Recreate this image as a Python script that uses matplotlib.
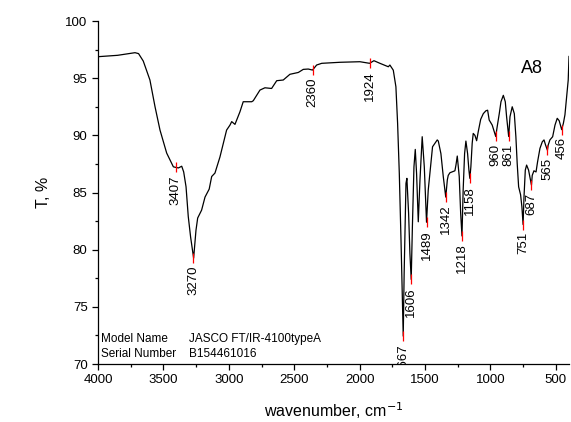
import numpy as np
import matplotlib
matplotlib.use("Agg")
import matplotlib.pyplot as plt
from matplotlib.ticker import MultipleLocator

plt.rcParams["font.family"] = ["Liberation Sans", "DejaVu Sans"]

# spectrum (wavenumber, T %)
wavenumber = [
    3999, 3850, 3717, 3690, 3654, 3603, 3564, 3526, 3475, 3424, 3407, 3385,
    3360, 3345, 3327, 3310, 3292, 3269, 3251, 3238, 3208, 3182, 3164, 3150,
    3131, 3106, 3068, 3017, 2991, 2978, 2953, 2915, 2890, 2876, 2825, 2813,
    2762, 2724, 2673, 2634, 2584, 2533, 2469, 2431, 2393, 2360, 2329, 2290,
    2151, 1998, 1947, 1924, 1891, 1845, 1781, 1769, 1743, 1723, 1710, 1697,
    1684, 1671, 1667, 1660, 1646, 1639, 1626, 1616, 1606, 1597, 1585, 1575,
    1565, 1552, 1539, 1522, 1506, 1489, 1476, 1463, 1443, 1425, 1407, 1399,
    1379, 1361, 1342, 1330, 1323, 1310, 1272, 1264, 1254, 1239, 1228, 1218,
    1209, 1198, 1188, 1175, 1165, 1158, 1150, 1140, 1132, 1119, 1106, 1094,
    1075, 1055, 1035, 1022, 1010, 997, 987, 960, 949, 933, 920, 902, 887,
    877, 861, 851, 834, 818, 806, 796, 785, 770, 760, 751, 744, 734, 724,
    709, 687, 681, 668, 652, 640, 622, 604, 591, 579, 565, 559, 546, 525,
    507, 490, 475, 456, 443, 431, 418, 406, 400,
]
transmittance = [
    96.88, 97.0, 97.23, 97.15, 96.5, 94.84, 92.5, 90.46, 88.45, 87.25, 87.2, 87.15,
    87.3, 86.8, 85.5, 82.9, 81.1, 79.26, 81.7, 82.77, 83.46, 84.6, 85.0, 85.3,
    86.4, 86.7, 88.1, 90.46, 90.9, 91.2, 90.96, 92.06, 92.94, 92.94, 92.94, 93.03,
    93.96, 94.16, 94.1, 94.78, 94.84, 95.34, 95.5, 95.77, 95.8, 95.71, 96.15, 96.3,
    96.39, 96.44, 96.35, 96.3, 96.53, 96.3, 96.0, 96.15, 95.7, 94.25, 91.05, 86.67,
    80.84, 74.45, 72.44, 77.9, 85.8, 86.24, 83.2, 79.68, 77.4, 82.0, 87.25, 88.77,
    86.67, 82.44, 86.1, 89.88, 87.25, 82.4, 85.2, 86.67, 89.0, 89.3, 89.6, 89.5,
    88.4, 86.4, 84.6, 86.1, 86.5, 86.73, 86.9, 87.4, 88.19, 86.4, 83.18, 81.2,
    85.2, 88.4, 89.5, 88.4, 86.96, 86.24, 87.25, 89.3, 90.17, 90.0, 89.53, 90.3,
    91.4, 91.9, 92.15, 92.2, 91.34, 91.1, 90.9, 89.9, 90.75, 91.9, 92.94, 93.5, 92.94,
    91.63, 89.9, 91.63, 92.5, 91.9, 89.88, 87.55, 85.5, 84.8, 83.75, 82.2, 84.6, 86.96, 87.4,
    86.96, 85.65, 86.5, 86.9, 86.8, 87.7, 88.86, 89.44, 89.6, 89.15, 88.7, 89.15, 89.6, 89.88,
    90.9, 91.49, 91.28, 90.5, 91.05, 91.8, 93.38, 94.84, 96.9,
]

# labelled peaks
peak_pos = [3407, 3270, 2360, 1924, 1667, 1606, 1489, 1342, 1218, 1158,
            960, 861, 751, 687, 565, 456]
peak_t = [87.2, 79.26, 95.71, 96.3, 72.44, 77.4, 82.4, 84.6, 81.2, 86.24,
          89.9, 89.9, 82.2, 85.65, 88.7, 90.5]

fig = plt.figure(figsize=(5.71, 4.22), dpi=100)
ax = fig.add_axes([0.1716, 0.1374, 0.8249, 0.8128])

ax.plot(wavenumber, transmittance, color="black", lw=0.9)

ax.plot(peak_pos, peak_t, ls="none", marker="|", color="red",
        markersize=7, markeredgewidth=0.9)
for p, t in zip(peak_pos, peak_t):
    ax.annotate(str(p), (p, t), xytext=(0, -5.5), textcoords="offset points",
                rotation=90, ha="center", va="top", fontsize=9.5,
                annotation_clip=False, clip_on=True)

ax.text(767, 95.48, "A8", fontsize=13, va="baseline")

ax.text(0.006, 0.065, "Model Name", transform=ax.transAxes, fontsize=8.5, va="baseline")
ax.text(0.194, 0.065, "JASCO FT/IR-4100typeA", transform=ax.transAxes, fontsize=8.5, va="baseline")
ax.text(0.006, 0.0195, "Serial Number", transform=ax.transAxes, fontsize=8.5, va="baseline")
ax.text(0.194, 0.0195, "B154461016", transform=ax.transAxes, fontsize=8.5, va="baseline")

ax.set_xlim(4000, 400)
ax.set_ylim(70, 100)
ax.xaxis.set_major_locator(MultipleLocator(500))
ax.xaxis.set_minor_locator(MultipleLocator(250))
ax.yaxis.set_major_locator(MultipleLocator(5))
ax.yaxis.set_minor_locator(MultipleLocator(2.5))
ax.tick_params(which="major", length=4, width=0.9, labelsize=9.5, direction="out")
ax.tick_params(which="minor", length=2, width=0.9, direction="out")

ax.spines["top"].set_visible(False)
ax.spines["right"].set_visible(False)
ax.spines["left"].set_linewidth(0.9)
ax.spines["bottom"].set_linewidth(0.9)

ax.set_xlabel("wavenumber, cm$^{-1}$", fontsize=11.5, labelpad=10)
ax.set_ylabel("T, %", fontsize=11.5, labelpad=10)

plt.savefig("out.png", dpi=100)
